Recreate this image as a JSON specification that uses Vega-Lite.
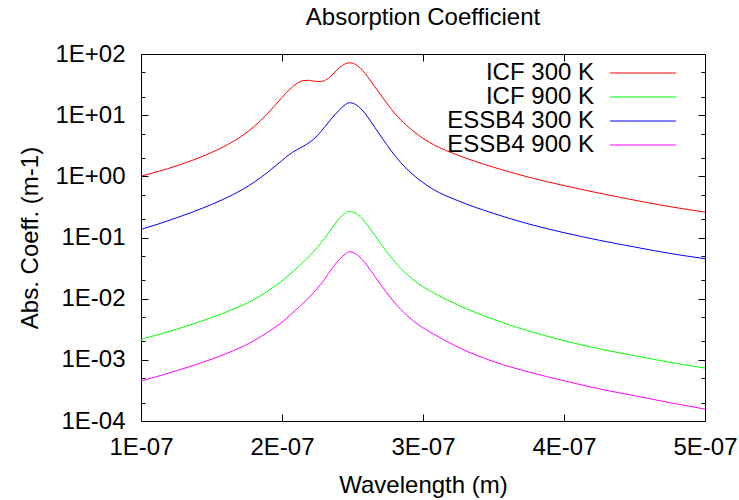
{
  "$schema": "https://vega.github.io/schema/vega-lite/v6.json",
  "width": 564,
  "height": 367,
  "autosize": "none",
  "padding": {"left": 141, "top": 54, "right": 34, "bottom": 79},
  "background": "white",
  "title": {"text": "Absorption Coefficient", "fontSize": 24, "font": "Liberation Sans", "fontWeight": "normal", "color": "black", "offset": 12, "anchor": "middle"},
  "config": {
    "view": {"stroke": "black", "strokeWidth": 1},
    "font": "Liberation Sans",
    "axis": {"labelFont": "Liberation Sans", "titleFont": "Liberation Sans", "labelFontSize": 24, "titleFontSize": 24, "titleFontWeight": "normal", "labelColor": "black", "titleColor": "black", "tickColor": "black", "tickWidth": 1, "grid": false, "domain": false}
  },
  "data": {"values": [
    {"series": "ICF 300 K", "wl": 1.00e-7, "k": 1.007},
    {"series": "ICF 300 K", "wl": 1.25e-7, "k": 1.479},
    {"series": "ICF 300 K", "wl": 1.50e-7, "k": 2.455},
    {"series": "ICF 300 K", "wl": 1.65e-7, "k": 3.673},
    {"series": "ICF 300 K", "wl": 1.80e-7, "k": 6.457},
    {"series": "ICF 300 K", "wl": 1.90e-7, "k": 10.72},
    {"series": "ICF 300 K", "wl": 2.00e-7, "k": 19.50},
    {"series": "ICF 300 K", "wl": 2.05e-7, "k": 25.70},
    {"series": "ICF 300 K", "wl": 2.10e-7, "k": 32.36},
    {"series": "ICF 300 K", "wl": 2.15e-7, "k": 36.73},
    {"series": "ICF 300 K", "wl": 2.19e-7, "k": 37.15},
    {"series": "ICF 300 K", "wl": 2.23e-7, "k": 35.89},
    {"series": "ICF 300 K", "wl": 2.27e-7, "k": 35.48},
    {"series": "ICF 300 K", "wl": 2.31e-7, "k": 37.58},
    {"series": "ICF 300 K", "wl": 2.35e-7, "k": 44.16},
    {"series": "ICF 300 K", "wl": 2.39e-7, "k": 54.95},
    {"series": "ICF 300 K", "wl": 2.43e-7, "k": 65.31},
    {"series": "ICF 300 K", "wl": 2.477e-7, "k": 71.78},
    {"series": "ICF 300 K", "wl": 2.52e-7, "k": 67.61},
    {"series": "ICF 300 K", "wl": 2.553e-7, "k": 59.57},
    {"series": "ICF 300 K", "wl": 2.59e-7, "k": 47.86},
    {"series": "ICF 300 K", "wl": 2.624e-7, "k": 37.58},
    {"series": "ICF 300 K", "wl": 2.66e-7, "k": 28.84},
    {"series": "ICF 300 K", "wl": 2.70e-7, "k": 21.38},
    {"series": "ICF 300 K", "wl": 2.742e-7, "k": 15.85},
    {"series": "ICF 300 K", "wl": 2.80e-7, "k": 10.72},
    {"series": "ICF 300 K", "wl": 2.885e-7, "k": 6.761},
    {"series": "ICF 300 K", "wl": 2.97e-7, "k": 4.677},
    {"series": "ICF 300 K", "wl": 3.073e-7, "k": 3.319},
    {"series": "ICF 300 K", "wl": 3.25e-7, "k": 2.208},
    {"series": "ICF 300 K", "wl": 3.50e-7, "k": 1.409},
    {"series": "ICF 300 K", "wl": 3.75e-7, "k": 0.9683},
    {"series": "ICF 300 K", "wl": 4.00e-7, "k": 0.7063},
    {"series": "ICF 300 K", "wl": 4.25e-7, "k": 0.5309},
    {"series": "ICF 300 K", "wl": 4.50e-7, "k": 0.4074},
    {"series": "ICF 300 K", "wl": 4.75e-7, "k": 0.3199},
    {"series": "ICF 300 K", "wl": 5.00e-7, "k": 0.2600},

    {"series": "ESSB4 300 K", "wl": 1.00e-7, "k": 0.1355},
    {"series": "ESSB4 300 K", "wl": 1.25e-7, "k": 0.2089},
    {"series": "ESSB4 300 K", "wl": 1.50e-7, "k": 0.3467},
    {"series": "ESSB4 300 K", "wl": 1.65e-7, "k": 0.4989},
    {"series": "ESSB4 300 K", "wl": 1.80e-7, "k": 0.7943},
    {"series": "ESSB4 300 K", "wl": 1.90e-7, "k": 1.175},
    {"series": "ESSB4 300 K", "wl": 2.00e-7, "k": 1.820},
    {"series": "ESSB4 300 K", "wl": 2.05e-7, "k": 2.254},
    {"series": "ESSB4 300 K", "wl": 2.10e-7, "k": 2.679},
    {"series": "ESSB4 300 K", "wl": 2.15e-7, "k": 3.090},
    {"series": "ESSB4 300 K", "wl": 2.20e-7, "k": 3.656},
    {"series": "ESSB4 300 K", "wl": 2.25e-7, "k": 4.603},
    {"series": "ESSB4 300 K", "wl": 2.30e-7, "k": 6.310},
    {"series": "ESSB4 300 K", "wl": 2.35e-7, "k": 8.710},
    {"series": "ESSB4 300 K", "wl": 2.40e-7, "k": 11.75},
    {"series": "ESSB4 300 K", "wl": 2.44e-7, "k": 14.29},
    {"series": "ESSB4 300 K", "wl": 2.477e-7, "k": 15.96},
    {"series": "ESSB4 300 K", "wl": 2.52e-7, "k": 15.03},
    {"series": "ESSB4 300 K", "wl": 2.553e-7, "k": 13.21},
    {"series": "ESSB4 300 K", "wl": 2.59e-7, "k": 10.57},
    {"series": "ESSB4 300 K", "wl": 2.624e-7, "k": 8.222},
    {"series": "ESSB4 300 K", "wl": 2.66e-7, "k": 6.237},
    {"series": "ESSB4 300 K", "wl": 2.70e-7, "k": 4.571},
    {"series": "ESSB4 300 K", "wl": 2.742e-7, "k": 3.311},
    {"series": "ESSB4 300 K", "wl": 2.80e-7, "k": 2.188},
    {"series": "ESSB4 300 K", "wl": 2.885e-7, "k": 1.318},
    {"series": "ESSB4 300 K", "wl": 2.97e-7, "k": 0.8913},
    {"series": "ESSB4 300 K", "wl": 3.073e-7, "k": 0.6109},
    {"series": "ESSB4 300 K", "wl": 3.25e-7, "k": 0.3972},
    {"series": "ESSB4 300 K", "wl": 3.50e-7, "k": 0.2477},
    {"series": "ESSB4 300 K", "wl": 3.75e-7, "k": 0.1663},
    {"series": "ESSB4 300 K", "wl": 4.00e-7, "k": 0.1199},
    {"series": "ESSB4 300 K", "wl": 4.25e-7, "k": 0.09016},
    {"series": "ESSB4 300 K", "wl": 4.50e-7, "k": 0.06998},
    {"series": "ESSB4 300 K", "wl": 4.75e-7, "k": 0.05495},
    {"series": "ESSB4 300 K", "wl": 5.00e-7, "k": 0.04508},

    {"series": "ICF 900 K", "wl": 1.00e-7, "k": 0.002163},
    {"series": "ICF 900 K", "wl": 1.25e-7, "k": 0.003162},
    {"series": "ICF 900 K", "wl": 1.50e-7, "k": 0.004898},
    {"series": "ICF 900 K", "wl": 1.65e-7, "k": 0.006683},
    {"series": "ICF 900 K", "wl": 1.80e-7, "k": 0.009661},
    {"series": "ICF 900 K", "wl": 1.90e-7, "k": 0.01334},
    {"series": "ICF 900 K", "wl": 2.00e-7, "k": 0.01950},
    {"series": "ICF 900 K", "wl": 2.10e-7, "k": 0.03090},
    {"series": "ICF 900 K", "wl": 2.20e-7, "k": 0.05129},
    {"series": "ICF 900 K", "wl": 2.30e-7, "k": 0.09550},
    {"series": "ICF 900 K", "wl": 2.36e-7, "k": 0.1479},
    {"series": "ICF 900 K", "wl": 2.41e-7, "k": 0.2089},
    {"series": "ICF 900 K", "wl": 2.45e-7, "k": 0.2512},
    {"series": "ICF 900 K", "wl": 2.477e-7, "k": 0.2661},
    {"series": "ICF 900 K", "wl": 2.52e-7, "k": 0.2512},
    {"series": "ICF 900 K", "wl": 2.553e-7, "k": 0.2213},
    {"series": "ICF 900 K", "wl": 2.59e-7, "k": 0.1778},
    {"series": "ICF 900 K", "wl": 2.624e-7, "k": 0.1396},
    {"series": "ICF 900 K", "wl": 2.66e-7, "k": 0.1072},
    {"series": "ICF 900 K", "wl": 2.70e-7, "k": 0.07943},
    {"series": "ICF 900 K", "wl": 2.742e-7, "k": 0.05888},
    {"series": "ICF 900 K", "wl": 2.80e-7, "k": 0.03981},
    {"series": "ICF 900 K", "wl": 2.885e-7, "k": 0.02512},
    {"series": "ICF 900 K", "wl": 2.97e-7, "k": 0.01738},
    {"series": "ICF 900 K", "wl": 3.073e-7, "k": 0.01253},
    {"series": "ICF 900 K", "wl": 3.25e-7, "k": 0.007834},
    {"series": "ICF 900 K", "wl": 3.50e-7, "k": 0.004581},
    {"series": "ICF 900 K", "wl": 3.75e-7, "k": 0.002958},
    {"series": "ICF 900 K", "wl": 4.00e-7, "k": 0.002056},
    {"series": "ICF 900 K", "wl": 4.25e-7, "k": 0.001514},
    {"series": "ICF 900 K", "wl": 4.50e-7, "k": 0.001169},
    {"series": "ICF 900 K", "wl": 4.75e-7, "k": 0.0009120},
    {"series": "ICF 900 K", "wl": 5.00e-7, "k": 0.0007328},

    {"series": "ESSB4 900 K", "wl": 1.00e-7, "k": 0.0004508},
    {"series": "ESSB4 900 K", "wl": 1.25e-7, "k": 0.0006607},
    {"series": "ESSB4 900 K", "wl": 1.50e-7, "k": 0.001023},
    {"series": "ESSB4 900 K", "wl": 1.65e-7, "k": 0.001396},
    {"series": "ESSB4 900 K", "wl": 1.80e-7, "k": 0.002042},
    {"series": "ESSB4 900 K", "wl": 1.90e-7, "k": 0.002851},
    {"series": "ESSB4 900 K", "wl": 2.00e-7, "k": 0.004121},
    {"series": "ESSB4 900 K", "wl": 2.10e-7, "k": 0.006607},
    {"series": "ESSB4 900 K", "wl": 2.20e-7, "k": 0.01096},
    {"series": "ESSB4 900 K", "wl": 2.30e-7, "k": 0.02042},
    {"series": "ESSB4 900 K", "wl": 2.36e-7, "k": 0.03236},
    {"series": "ESSB4 900 K", "wl": 2.41e-7, "k": 0.04467},
    {"series": "ESSB4 900 K", "wl": 2.45e-7, "k": 0.05370},
    {"series": "ESSB4 900 K", "wl": 2.477e-7, "k": 0.05861},
    {"series": "ESSB4 900 K", "wl": 2.52e-7, "k": 0.05433},
    {"series": "ESSB4 900 K", "wl": 2.553e-7, "k": 0.04786},
    {"series": "ESSB4 900 K", "wl": 2.59e-7, "k": 0.03846},
    {"series": "ESSB4 900 K", "wl": 2.624e-7, "k": 0.02985},
    {"series": "ESSB4 900 K", "wl": 2.66e-7, "k": 0.02291},
    {"series": "ESSB4 900 K", "wl": 2.70e-7, "k": 0.01698},
    {"series": "ESSB4 900 K", "wl": 2.742e-7, "k": 0.01259},
    {"series": "ESSB4 900 K", "wl": 2.80e-7, "k": 0.008511},
    {"series": "ESSB4 900 K", "wl": 2.885e-7, "k": 0.005370},
    {"series": "ESSB4 900 K", "wl": 2.97e-7, "k": 0.003715},
    {"series": "ESSB4 900 K", "wl": 3.073e-7, "k": 0.002661},
    {"series": "ESSB4 900 K", "wl": 3.25e-7, "k": 0.001600},
    {"series": "ESSB4 900 K", "wl": 3.50e-7, "k": 0.0009354},
    {"series": "ESSB4 900 K", "wl": 3.75e-7, "k": 0.0006324},
    {"series": "ESSB4 900 K", "wl": 4.00e-7, "k": 0.0004550},
    {"series": "ESSB4 900 K", "wl": 4.25e-7, "k": 0.0003350},
    {"series": "ESSB4 900 K", "wl": 4.50e-7, "k": 0.0002588},
    {"series": "ESSB4 900 K", "wl": 4.75e-7, "k": 0.0001995},
    {"series": "ESSB4 900 K", "wl": 5.00e-7, "k": 0.0001567}
  ]},
  "resolve": {"axis": {"x": "independent", "y": "independent"}},
  "layer": [
    {
      "mark": {"type": "line", "strokeWidth": 1, "interpolate": "monotone", "clip": true},
      "encoding": {
        "x": {"field": "wl", "type": "quantitative",
              "scale": {"domain": [1e-7, 5e-7], "nice": false, "zero": false},
              "axis": {"orient": "bottom", "values": [1e-7, 2e-7, 3e-7, 4e-7, 5e-7], "ticks": false, "labelPadding": 14, "labelExpr": "format(datum.value*1e7, '.0f') + 'E-07'", "title": "Wavelength (m)", "titlePadding": 14, "labelFlush": false, "labelOverlap": false}},
        "y": {"field": "k", "type": "quantitative",
              "scale": {"type": "log", "domain": [0.0001, 100], "nice": false},
              "axis": {"orient": "left", "values": [0.0001, 0.001, 0.01, 0.1, 1, 10, 100], "ticks": false, "labelPadding": 16, "labelExpr": "datum.value >= 1 ? '1E+0' + format(log(datum.value)/LN10, '.0f') : '1E-0' + format(-log(datum.value)/LN10, '.0f')", "title": "Abs. Coeff. (m-1)", "titlePadding": 12, "labelFlush": false, "labelOverlap": false}},
        "color": {"field": "series", "type": "nominal",
                  "scale": {"domain": ["ICF 300 K", "ICF 900 K", "ESSB4 300 K", "ESSB4 900 K"], "range": ["#ff0000", "#00ff00", "#0000ff", "#ff00ff"]},
                  "legend": {"orient": "none", "legendX": 490, "legendY": 7, "title": null, "symbolType": "M-6,0H6", "symbolSize": 121, "symbolStrokeWidth": 1, "symbolOpacity": 1, "symbolFillColor": "transparent", "rowPadding": 0, "padding": 0, "labelAlign": "right", "labelOffset": -61, "labelFontSize": 24, "labelFont": "Liberation Sans", "labelColor": "black", "labelLimit": 400}}
      }
    },
    {
      "mark": {"type": "line", "opacity": 0},
      "encoding": {
        "x": {"field": "wl", "type": "quantitative", "axis": {"orient": "bottom", "offset": -7, "values": [2e-7, 3e-7, 4e-7], "tickSize": 7, "labels": false, "title": null}},
        "y": {"field": "k", "type": "quantitative", "axis": {"orient": "left", "offset": -7, "values": [0.001, 0.01, 0.1, 1, 10], "tickSize": 7, "labels": false, "title": null}}
      }
    },
    {
      "mark": {"type": "line", "opacity": 0},
      "encoding": {
        "x": {"field": "wl", "type": "quantitative", "axis": {"orient": "top", "offset": -7, "values": [2e-7, 3e-7, 4e-7], "tickSize": 7, "labels": false, "title": null}},
        "y": {"field": "k", "type": "quantitative", "axis": {"orient": "right", "offset": -7, "values": [0.001, 0.01, 0.1, 1, 10], "tickSize": 7, "labels": false, "title": null}}
      }
    },
    {
      "mark": {"type": "line", "opacity": 0},
      "encoding": {
        "x": {"field": "wl", "type": "quantitative", "axis": null},
        "y": {"field": "k", "type": "quantitative", "axis": {"orient": "left", "offset": -4, "values": [0.0002, 0.0005, 0.002, 0.005, 0.02, 0.05, 0.2, 0.5, 2, 5, 20, 50], "tickSize": 4, "labels": false, "title": null}}
      }
    },
    {
      "mark": {"type": "line", "opacity": 0},
      "encoding": {
        "x": {"field": "wl", "type": "quantitative", "axis": null},
        "y": {"field": "k", "type": "quantitative", "axis": {"orient": "right", "offset": -4, "values": [0.0002, 0.0005, 0.002, 0.005, 0.02, 0.05, 0.2, 0.5, 2, 5, 20, 50], "tickSize": 4, "labels": false, "title": null}}
      }
    }
  ]
}
